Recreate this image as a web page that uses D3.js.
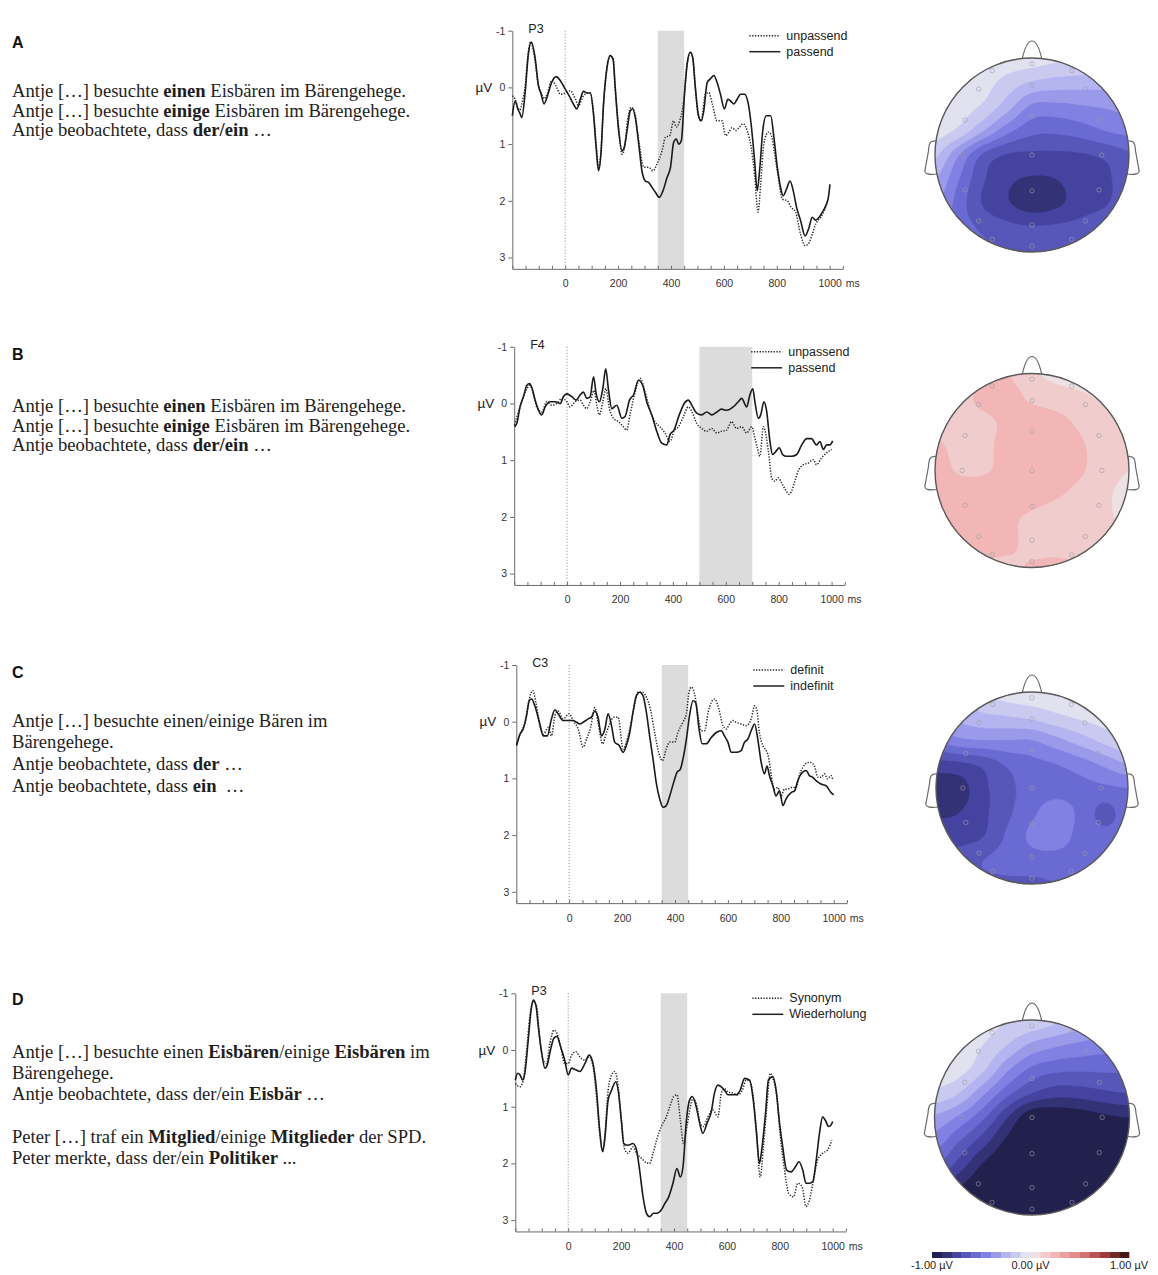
<!DOCTYPE html>
<html>
<head>
<meta charset="utf-8">
<script src="https://cdn.jsdelivr.net/npm/d3@7"></script>
<style>
  body { margin: 0; background: #fff; }
  svg { display: block; }
  text { white-space: pre; }
</style>
</head>
<body>
<svg id="fig" width="1158" height="1275"></svg>
<script>
// ---------------------------------------------------------------------------
// ERP grand averages: [time in ms, amplitude in µV] (negative plotted up)
// ---------------------------------------------------------------------------
const erpA_unpassend = [[-200,0.15],[-190,0.2],[-180,0.35],[-172,0.4],[-162,0.25],[-152,0.0],[-140,-0.6],[-130,-0.8],[-115,-0.5],[-102,-0.05],[-90,0.1],[-80,0.2],[-67,0.1],[-51,-0.12],[-32,0.0],[-19,0.12],[0,0.1],[19,0.06],[38,0.2],[50,0.32],[69,0.15],[82,0.1],[95,0.1],[107,0.45],[117,1.0],[126,1.41],[135,1.15],[145,0.29],[158,-0.35],[170,-0.56],[181,-0.5],[189,0.0],[202,0.7],[215,1.18],[225,1.05],[235,0.6],[250,0.35],[265,0.5],[278,0.94],[298,1.41],[316,1.41],[332,1.47],[347,1.35],[366,1.12],[379,0.88],[395,0.85],[410,0.59],[420,0.7],[433,0.59],[448,0.24],[461,-0.41],[473,-0.62],[482,-0.53],[492,0.0],[503,0.5],[514,0.59],[530,0.12],[543,0.09],[556,0.29],[574,0.59],[593,0.59],[606,0.85],[619,0.79],[631,0.71],[644,0.76],[657,0.71],[673,0.64],[688,0.76],[703,1.06],[716,1.53],[729,2.2],[739,1.71],[751,1.0],[768,0.79],[780,0.85],[792,1.18],[804,1.53],[821,1.97],[840,2.0],[855,2.12],[871,2.2],[890,2.59],[907,2.79],[922,2.74],[934,2.59],[947,2.41],[966,2.29],[979,2.18],[992,2.0]];
const erpA_passend = [[-200,0.5],[-189,0.24],[-179,0.38],[-170,0.47],[-164,0.53],[-152,0.12],[-139,-0.6],[-129,-0.8],[-114,-0.53],[-101,-0.03],[-91,0.12],[-80,0.29],[-67,0.15],[-51,-0.09],[-34,-0.19],[-19,-0.12],[0,0.03],[15,0.15],[25,0.24],[38,0.35],[44,0.38],[57,0.21],[69,0.07],[82,0.1],[95,0.1],[107,0.47],[117,1.06],[126,1.47],[135,1.18],[145,0.29],[158,-0.35],[170,-0.56],[181,-0.5],[189,0],[202,0.76],[215,1.12],[223,1.06],[234,0.76],[246,0.41],[256,0.38],[265,0.53],[278,1.0],[290,1.47],[303,1.65],[316,1.68],[328,1.76],[341,1.85],[356,1.94],[370,1.82],[385,1.59],[398,1.41],[410,0.97],[420,0.91],[429,1.0],[439,0.94],[451,0.12],[461,-0.41],[473,-0.62],[482,-0.53],[492,0],[503,0.47],[514,0.59],[524,0.41],[537,-0.09],[549,-0.15],[562,-0.21],[574,-0.09],[587,0.12],[602,0.38],[615,0.21],[625,0.24],[638,0.29],[650,0.21],[663,0.12],[678,0.12],[691,0.26],[703,0.65],[716,1.29],[726,1.82],[736,1.41],[747,0.76],[760,0.5],[777,0.5],[789,0.88],[802,1.41],[814,1.76],[824,1.91],[837,1.79],[850,1.65],[862,1.82],[875,2.12],[890,2.35],[907,2.62],[922,2.47],[934,2.29],[947,2.34],[960,2.29],[972,2.2],[985,2.09],[995,1.94],[1001,1.71]];

const erpB_unpassend = [[-199,0.38],[-178,0.06],[-152,-0.26],[-142,-0.32],[-127,-0.17],[-115,0.06],[-96,0.15],[-77,-0.03],[-58,0.03],[-39,0],[-20,-0.09],[-1,-0.03],[11,0.06],[30,-0.03],[49,-0.06],[62,0.03],[74,0.09],[87,-0.03],[102,-0.23],[112,0.03],[122,0.2],[135,-0.03],[147,-0.26],[160,0.09],[175,0.26],[194,0.32],[213,0.41],[225,0.47],[238,0.2],[257,-0.2],[276,-0.44],[295,-0.2],[314,0.12],[332,0.32],[351,0.41],[370,0.52],[389,0.67],[404,0.49],[421,0.41],[440,0.23],[458,0.06],[477,0.2],[490,0.35],[509,0.44],[528,0.49],[547,0.44],[566,0.52],[584,0.49],[603,0.47],[622,0.32],[641,0.44],[660,0.41],[679,0.52],[698,0.41],[710,0.61],[719,0.78],[729,0.93],[742,0.41],[754,0.61],[764,0.96],[773,1.31],[786,1.37],[798,1.31],[811,1.4],[824,1.51],[840,1.6],[849,1.54],[861,1.37],[874,1.19],[893,1.08],[912,1.05],[931,0.99],[943,1.08],[962,0.96],[981,0.87],[1000,0.81]];
const erpB_passend = [[-199,0.41],[-190,0.35],[-178,0.06],[-165,-0.12],[-152,-0.32],[-142,-0.35],[-134,-0.29],[-121,-0.06],[-108,0.12],[-96,0.2],[-83,0.06],[-64,-0.03],[-45,-0.03],[-26,0],[-14,-0.12],[-1,-0.17],[18,-0.12],[34,-0.06],[49,-0.15],[62,-0.2],[74,-0.09],[87,-0.12],[100,-0.47],[110,-0.17],[122,-0.03],[135,-0.26],[146,-0.61],[156,-0.26],[169,0.09],[188,0.03],[207,0.26],[219,0.23],[236,-0.06],[251,-0.15],[270,-0.41],[286,-0.32],[301,-0.03],[320,0.2],[339,0.49],[358,0.7],[377,0.73],[389,0.55],[404,0.47],[424,0.2],[443,0],[458,-0.06],[475,0.06],[490,0.17],[509,0.2],[528,0.15],[547,0.2],[566,0.15],[584,0.1],[603,0.12],[628,0.06],[647,-0.03],[660,-0.09],[679,0.06],[691,-0.15],[702,-0.26],[710,-0.03],[723,0.26],[732,0.2],[744,-0.03],[754,0.12],[767,0.67],[777,0.9],[790,0.84],[802,0.78],[815,0.9],[830,0.93],[849,0.93],[868,0.9],[887,0.73],[906,0.62],[924,0.62],[943,0.73],[956,0.67],[969,0.81],[981,0.73],[994,0.73],[1004,0.66]];

const erpC_definit = [[-199,0.39],[-186,0.22],[-167,0.01],[-151,-0.4],[-138,-0.55],[-126,-0.34],[-111,0.07],[-98,0.22],[-79,0.1],[-67,0.25],[-54,-0.11],[-42,-0.19],[-23,-0.05],[0,-0.14],[15,-0.02],[34,0.13],[53,0.45],[65,0.31],[81,0.1],[97,-0.25],[109,0.01],[126,0.39],[141,0.19],[153,0.04],[169,-0.08],[185,-0.08],[204,0.48],[216,0.36],[229,0.13],[244,-0.22],[260,-0.52],[277,-0.52],[292,-0.43],[307,-0.22],[323,0.19],[340,0.57],[352,0.69],[367,0.48],[380,0.36],[399,0.36],[411,0.19],[430,0.01],[443,-0.14],[453,-0.52],[462,-0.61],[474,-0.49],[487,-0.11],[499,0.16],[512,0.16],[525,-0.16],[537,-0.34],[550,-0.4],[566,-0.22],[581,0.07],[594,0.13],[606,0.04],[619,-0.02],[631,0.01],[650,0.04],[669,0.07],[688,-0.05],[701,-0.28],[709,-0.22],[719,0.19],[732,0.42],[745,0.51],[755,0.66],[764,0.95],[776,1.19],[789,1.16],[801,1.31],[814,1.19],[826,1.19],[839,1.16],[858,1.16],[870,0.95],[883,0.81],[902,0.72],[914,0.72],[927,0.78],[940,0.98],[952,0.98],[965,0.92],[977,1.01],[990,0.95],[996,1.02]];
const erpC_indefinit = [[-199,0.42],[-186,0.22],[-174,0.13],[-161,-0.11],[-151,-0.37],[-142,-0.4],[-130,-0.28],[-111,0.04],[-98,0.25],[-83,0.25],[-67,-0.05],[-54,-0.21],[-42,-0.14],[-23,-0.02],[-4,-0.02],[15,-0.02],[28,0.01],[40,0.04],[53,0.01],[72,-0.05],[84,-0.08],[97,-0.19],[109,-0.08],[122,0.25],[135,0.13],[147,-0.14],[160,0.07],[172,0.36],[189,0.42],[204,0.54],[216,0.42],[229,0.19],[242,-0.19],[254,-0.46],[267,-0.52],[279,-0.46],[292,-0.16],[304,0.25],[317,0.66],[330,1.1],[342,1.36],[355,1.51],[367,1.48],[380,1.31],[395,1.07],[408,0.89],[420,0.84],[430,0.66],[443,0.31],[455,-0.11],[468,-0.37],[478,-0.34],[491,0.13],[503,0.39],[518,0.39],[537,0.28],[556,0.19],[575,0.16],[587,0.25],[600,0.36],[613,0.54],[631,0.54],[650,0.51],[663,0.36],[675,0.31],[688,0.16],[701,0.04],[713,0.31],[726,0.72],[738,0.92],[748,0.78],[757,0.95],[770,1.13],[782,1.31],[795,1.22],[808,1.48],[820,1.36],[839,1.25],[852,1.22],[864,1.04],[877,0.92],[896,0.86],[908,0.95],[921,0.98],[933,1.04],[952,1.1],[971,1.13],[990,1.25],[1000,1.29]];

const erpD_synonym = [[-200,0.59],[-182,0.65],[-170,0.53],[-157,0],[-145,-0.59],[-132,-0.85],[-119,-0.76],[-107,-0.18],[-94,0.18],[-82,0.24],[-69,-0.12],[-54,-0.35],[-42,-0.29],[-29,-0.06],[-13,0.24],[0,0.24],[13,0.09],[29,0.03],[44,0.12],[63,0.18],[79,0.12],[94,0.29],[107,0.82],[119,1.47],[130,1.79],[138,1.53],[151,0.71],[164,0.44],[176,0.38],[189,0.65],[201,1.24],[214,1.76],[226,1.82],[245,1.71],[258,1.82],[277,1.91],[296,1.99],[308,2.0],[321,1.82],[336,1.56],[352,1.35],[371,1.18],[384,1.0],[399,0.82],[411,0.79],[424,1.24],[436,1.65],[449,1.35],[462,1.0],[472,0.85],[487,1.0],[499,1.29],[512,1.35],[528,1.18],[547,1.06],[566,1.18],[579,0.76],[591,0.68],[604,0.74],[623,0.76],[642,0.79],[658,0.71],[673,0.53],[688,0.56],[701,0.88],[713,1.53],[726,2.24],[738,1.71],[751,1.0],[764,0.41],[776,0.53],[789,0.82],[801,1.47],[818,2.12],[834,2.53],[852,2.59],[868,2.35],[884,2.41],[899,2.76],[912,2.65],[925,2.35],[943,1.94],[962,1.82],[981,1.76],[997,1.59]];
const erpD_wiederholung = [[-200,0.53],[-191,0.41],[-182,0.44],[-172,0.53],[-164,0.41],[-151,-0.18],[-141,-0.68],[-132,-0.88],[-122,-0.79],[-113,-0.41],[-101,0.03],[-88,0.32],[-79,0.26],[-67,0],[-54,-0.21],[-42,-0.24],[-29,-0.06],[-13,0.18],[0,0.44],[13,0.32],[29,0.35],[44,0.38],[63,0.24],[79,0.09],[94,0.24],[107,0.71],[119,1.41],[130,1.79],[138,1.59],[151,0.88],[164,0.71],[180,0.56],[189,0.71],[201,1.24],[210,1.65],[226,1.68],[245,1.65],[258,1.76],[270,2.12],[283,2.59],[296,2.88],[308,2.94],[323,2.88],[336,2.88],[352,2.82],[365,2.71],[380,2.59],[396,2.35],[411,2.09],[424,2.24],[434,2.06],[447,1.24],[459,0.88],[469,0.82],[484,1.0],[497,1.29],[509,1.47],[525,1.29],[541,1.09],[553,0.76],[566,0.62],[579,0.65],[591,0.71],[604,0.79],[623,0.79],[635,0.79],[650,0.71],[667,0.5],[686,0.53],[698,0.82],[711,1.41],[723,2.0],[733,1.71],[746,1.12],[757,0.53],[774,0.47],[786,0.71],[799,1.29],[811,1.71],[826,2.12],[843,2.15],[859,2.06],[872,1.97],[887,2.12],[899,2.35],[912,2.35],[925,2.32],[937,1.97],[950,1.47],[962,1.18],[972,1.24],[985,1.35],[994,1.32],[1000,1.26]];

// Axis ticks and per-panel annotations
const timeTicks = [0, 200, 400, 600, 800, 1000];
const voltTicks = [-1, 0, 1, 2, 3];
const channels = ["P3", "F4", "C3", "P3"];
const windows = [[350, 450], [500, 700], [350, 450], [350, 450]];
const legendsDotted = ["unpassend", "unpassend", "definit", "Synonym"];
const legendsSolid = ["passend", "passend", "indefinit", "Wiederholung"];
const panelLetters = ["A", "B", "C", "D"];

// Example sentences: [text, bold]
const sentencesA = [
  [["Antje […] besuchte ", 0], ["einen", 1], [" Eisbären im Bärengehege.", 0]],
  [["Antje […] besuchte ", 0], ["einige", 1], [" Eisbären im Bärengehege.", 0]],
  [["Antje beobachtete, dass ", 0], ["der/ein", 1], [" …", 0]]
];
const sentencesB = [
  [["Antje […] besuchte ", 0], ["einen", 1], [" Eisbären im Bärengehege.", 0]],
  [["Antje […] besuchte ", 0], ["einige", 1], [" Eisbären im Bärengehege.", 0]],
  [["Antje beobachtete, dass ", 0], ["der/ein", 1], [" …", 0]]
];
const sentencesC = [
  [["Antje […] besuchte einen/einige Bären im", 0]],
  [["Bärengehege.", 0]],
  [["Antje beobachtete, dass ", 0], ["der", 1], [" …", 0]],
  [["Antje beobachtete, dass ", 0], ["ein", 1], ["  …", 0]]
];
const sentencesD = [
  [["Antje […] besuchte einen ", 0], ["Eisbären", 1], ["/einige ", 0], ["Eisbären", 1], [" im", 0]],
  [["Bärengehege.", 0]],
  [["Antje beobachtete, dass der/ein ", 0], ["Eisbär", 1], [" …", 0]],
  [["Peter […] traf ein ", 0], ["Mitglied", 1], ["/einige ", 0], ["Mitglieder", 1], [" der SPD.", 0]],
  [["Peter merkte, dass der/ein ", 0], ["Politiker", 1], [" ...", 0]]
];

// Scalp potentials (µV) on a 9×9 grid, x and y from -1 to 1 (nose at top)
const topoA = [
  [-0.02,-0.02,-0.03,-0.04,-0.05,-0.08,-0.10,-0.12,-0.15],
  [-0.02,-0.03,-0.06,-0.14,-0.21,-0.24,-0.25,-0.26,-0.28],
  [-0.03,-0.05,-0.12,-0.26,-0.42,-0.43,-0.41,-0.39,-0.37],
  [-0.05,-0.13,-0.30,-0.47,-0.57,-0.58,-0.55,-0.50,-0.47],
  [-0.18,-0.40,-0.62,-0.71,-0.72,-0.72,-0.71,-0.68,-0.62],
  [-0.30,-0.50,-0.69,-0.78,-0.81,-0.80,-0.75,-0.72,-0.65],
  [-0.38,-0.55,-0.71,-0.79,-0.85,-0.82,-0.75,-0.71,-0.64],
  [-0.45,-0.55,-0.62,-0.67,-0.69,-0.68,-0.66,-0.62,-0.58],
  [-0.50,-0.55,-0.58,-0.60,-0.61,-0.60,-0.58,-0.56,-0.54]
];
const topoB = [
  [0.15,0.15,0.18,0.20,0.12,0.07,0.05,0.04,0.04],
  [0.15,0.17,0.22,0.24,0.18,0.15,0.12,0.08,0.05],
  [0.15,0.17,0.18,0.22,0.25,0.23,0.18,0.14,0.12],
  [0.22,0.17,0.18,0.23,0.26,0.25,0.21,0.16,0.14],
  [0.24,0.19,0.19,0.23,0.26,0.25,0.21,0.15,0.10],
  [0.24,0.25,0.25,0.25,0.24,0.21,0.17,0.12,0.06],
  [0.23,0.25,0.25,0.22,0.18,0.15,0.14,0.12,0.07],
  [0.18,0.20,0.23,0.22,0.17,0.15,0.15,0.14,0.12],
  [0.15,0.16,0.18,0.18,0.21,0.23,0.20,0.16,0.14]
];
const topoC = [
  [-0.25,-0.18,-0.10,-0.05,-0.03,-0.02,-0.01,-0.01,-0.01],
  [-0.35,-0.27,-0.22,-0.20,-0.17,-0.12,-0.08,-0.05,-0.03],
  [-0.48,-0.42,-0.40,-0.40,-0.40,-0.33,-0.25,-0.17,-0.10],
  [-0.74,-0.72,-0.67,-0.58,-0.53,-0.50,-0.45,-0.38,-0.30],
  [-0.86,-0.84,-0.72,-0.63,-0.55,-0.53,-0.53,-0.52,-0.50],
  [-0.82,-0.80,-0.72,-0.62,-0.52,-0.46,-0.52,-0.63,-0.55],
  [-0.74,-0.74,-0.70,-0.58,-0.48,-0.45,-0.53,-0.57,-0.55],
  [-0.64,-0.65,-0.60,-0.56,-0.54,-0.54,-0.55,-0.55,-0.52],
  [-0.58,-0.60,-0.62,-0.62,-0.62,-0.60,-0.57,-0.55,-0.50]
];
const topoD = [
  [-0.02,-0.02,-0.05,-0.10,-0.12,-0.18,-0.25,-0.30,-0.35],
  [-0.02,-0.04,-0.10,-0.20,-0.32,-0.38,-0.42,-0.45,-0.48],
  [-0.04,-0.06,-0.18,-0.38,-0.52,-0.57,-0.58,-0.58,-0.58],
  [-0.12,-0.20,-0.38,-0.57,-0.70,-0.76,-0.75,-0.72,-0.70],
  [-0.32,-0.42,-0.58,-0.80,-0.98,-0.98,-0.96,-0.92,-0.90],
  [-0.45,-0.60,-0.76,-0.93,-1.00,-1.00,-1.00,-1.00,-1.00],
  [-0.60,-0.75,-0.92,-1.00,-1.00,-1.00,-1.00,-1.00,-1.00],
  [-0.80,-0.92,-1.00,-1.00,-1.00,-1.00,-1.00,-1.00,-1.00],
  [-0.90,-1.00,-1.00,-1.00,-1.00,-1.00,-1.00,-1.00,-1.00]
];

// Electrode sites on the unit head (x right, y toward the back)
const electrodes = [
  [-0.41,-0.87],[0,-0.94],[0.41,-0.87],
  [-0.55,-0.68],[0,-0.72],[0.55,-0.68],
  [-0.69,-0.36],[0,-0.40],[0.69,-0.36],
  [-0.72,0],[0,0],[0.72,0],
  [-0.69,0.36],[0,0.37],[0.69,0.36],
  [-0.55,0.68],[0,0.72],[0.55,0.68],
  [-0.41,0.87],[0,0.94],[0.41,0.87]
];

// Colour scale of the maps
const colorbarLabels = ["-1.00 µV", "0.00 µV", "1.00 µV"];
const colorStops = [-1, -0.75, -0.5, -0.25, 0, 0.25, 0.5, 0.75, 1];
const colorRamp = ["#1a1838", "#4444a0", "#7474e0", "#b4b4f0", "#ececf0", "#f2b6b6", "#e08080", "#a03a3a", "#2e1010"];

// ---------------------------------------------------------------------------
// Layout
// ---------------------------------------------------------------------------
const PX_PER_MS = 0.2645, PX_PER_UV = 56.7;
const layout = [
  { letterY: 48,   lineY: [97, 117, 136],                  chart: { left: 512.3, top: 30.7 },  head: { cx: 1032, cy: 155,   r: 97 } },
  { letterY: 360,  lineY: [412, 432, 451],                 chart: { left: 514.2, top: 346.8 }, head: { cx: 1032, cy: 470.5, r: 97 } },
  { letterY: 678,  lineY: [727, 748, 770, 792],            chart: { left: 516.3, top: 665 },   head: { cx: 1032, cy: 788,   r: 96 } },
  { letterY: 1005, lineY: [1058, 1079, 1100, 1143, 1164],  chart: { left: 515.3, top: 993.3 }, head: { cx: 1032, cy: 1117.5, r: 97.5 } }
];
const series = [
  [erpA_unpassend, erpA_passend],
  [erpB_unpassend, erpB_passend],
  [erpC_definit, erpC_indefinit],
  [erpD_synonym, erpD_wiederholung]
];
const sentences = [sentencesA, sentencesB, sentencesC, sentencesD];
const topos = [topoA, topoB, topoC, topoD];

const SANS = "'Liberation Sans', Arial, Helvetica, sans-serif";
const SERIF = "'Liberation Serif', 'Times New Roman', Times, serif";

const svg = d3.select("#fig");
svg.append("rect").attr("width", 1158).attr("height", 1275).attr("fill", "#fff");

const potential = d3.scaleLinear().domain(colorStops).range(colorRamp).clamp(true);
const thresholds = d3.range(-9, 10).map(k => k / 10);

// --------------------------- text column ---------------------------------
sentences.forEach((lines, p) => {
  const L = layout[p];
  svg.append("text").attr("x", 12).attr("y", L.letterY)
    .attr("font-family", SANS).attr("font-weight", "bold").attr("font-size", 16)
    .attr("fill", "#111").text(panelLetters[p]);
  lines.forEach((segs, i) => {
    const t = svg.append("text").attr("x", 12).attr("y", L.lineY[i])
      .attr("font-family", SERIF).attr("font-size", 18.6).attr("fill", "#1e1e1e");
    segs.forEach(([s, b]) => t.append("tspan").attr("font-weight", b ? "bold" : "normal").text(s));
  });
});

// --------------------------- ERP charts -----------------------------------
function drawErp(p) {
  const { left, top } = layout[p].chart;
  const x = d3.scaleLinear().domain([-200, 1050]).range([left, left + 1250 * PX_PER_MS]);
  const y = d3.scaleLinear().domain([-1, 3.2]).range([top, top + 4.2 * PX_PER_UV]);
  const g = svg.append("g");

  // analysis window
  const [w0, w1] = windows[p];
  g.append("rect").attr("x", x(w0)).attr("width", x(w1) - x(w0))
    .attr("y", y(-1)).attr("height", y(3.2) - y(-1)).attr("fill", "#dcdcdc");

  // stimulus onset
  g.append("line").attr("x1", x(0)).attr("x2", x(0)).attr("y1", y(-1)).attr("y2", y(3.2))
    .attr("stroke", "#8a8a8a").attr("stroke-width", 1).attr("stroke-dasharray", "1,2");

  // axes
  const xAxis = g.append("g").attr("transform", `translate(0,${y(3.2)})`)
    .call(d3.axisBottom(x).tickValues(d3.range(-200, 1051, 50))
      .tickFormat(d => timeTicks.includes(d) ? String(d) : "")
      .tickSizeInner(-3).tickSizeOuter(0).tickPadding(11));
  const yAxis = g.append("g").attr("transform", `translate(${left},0)`)
    .call(d3.axisLeft(y).tickValues(voltTicks).tickFormat(d => String(d))
      .tickSizeInner(4).tickSizeOuter(0).tickPadding(3));
  [xAxis, yAxis].forEach(a => {
    a.select(".domain").attr("stroke", "#6a6a6a");
    a.selectAll(".tick line").attr("stroke", "#6a6a6a");
    a.selectAll("text").attr("font-family", SANS).attr("font-size", 10.5).attr("fill", "#333");
  });
  g.append("text").attr("x", x(1000) + 16).attr("y", y(3.2) + 11 + 7.4)
    .attr("font-family", SANS).attr("font-size", 10.5).attr("fill", "#333").text("ms");
  g.append("text").attr("x", left - 20).attr("y", y(0) + 4.5).attr("text-anchor", "end")
    .attr("font-family", SANS).attr("font-size", 13.5).attr("fill", "#222").text("µV");

  // channel label
  g.append("text").attr("x", left + 16).attr("y", top + 2)
    .attr("font-family", SANS).attr("font-size", 12.5).attr("fill", "#222").text(channels[p]);

  // waveforms
  const line = d3.line().x(d => x(d[0])).y(d => y(d[1])).curve(d3.curveMonotoneX);
  const [dotted, solid] = series[p];
  g.append("path").datum(dotted).attr("d", line).attr("fill", "none")
    .attr("stroke", "#2a2a2a").attr("stroke-width", 1.5).attr("stroke-dasharray", "1.3,1.5");
  g.append("path").datum(solid).attr("d", line).attr("fill", "none")
    .attr("stroke", "#1a1a1a").attr("stroke-width", 1.6).attr("stroke-linejoin", "round");

  // legend
  const lx0 = left + 237, lx1 = left + 268, tx = left + 274;
  [[legendsDotted[p], top + 5, true], [legendsSolid[p], top + 21, false]].forEach(([label, ly, dot]) => {
    g.append("line").attr("x1", lx0).attr("x2", lx1).attr("y1", ly).attr("y2", ly)
      .attr("stroke", "#222").attr("stroke-width", 1.5)
      .attr("stroke-dasharray", dot ? "1.3,1.5" : null);
    g.append("text").attr("x", tx).attr("y", ly + 4)
      .attr("font-family", SANS).attr("font-size", 12.5).attr("fill", "#222").text(label);
  });
}

// --------------------------- scalp maps -----------------------------------
function catmull(p0, p1, p2, p3, t) {
  return 0.5 * (2 * p1 + (-p0 + p2) * t + (2 * p0 - 5 * p1 + 4 * p2 - p3) * t * t
    + (-p0 + 3 * p1 - 3 * p2 + p3) * t * t * t);
}
function sampleGrid(grid, hx, hy) {
  const n = grid.length - 1;
  const gx = (Math.max(-1, Math.min(1, hx)) + 1) / 2 * n;
  const gy = (Math.max(-1, Math.min(1, hy)) + 1) / 2 * n;
  const ix = Math.min(n - 1, Math.floor(gx)), iy = Math.min(n - 1, Math.floor(gy));
  const tx = gx - ix, ty = gy - iy;
  const c = i => Math.max(0, Math.min(n, i));
  const rows = [-1, 0, 1, 2].map(d => {
    const r = grid[c(iy + d)];
    return catmull(r[c(ix - 1)], r[c(ix)], r[c(ix + 1)], r[c(ix + 2)], tx);
  });
  return catmull(rows[0], rows[1], rows[2], rows[3], ty);
}

function drawTopo(p) {
  const { cx, cy, r } = layout[p].head;
  const grid = topos[p];
  const g = svg.append("g");

  // nose and ears
  const nose = `M${cx - 10},${cy - r + 2} Q${cx - 6},${cy - r - 17} ${cx},${cy - r - 17} Q${cx + 6},${cy - r - 17} ${cx + 10},${cy - r + 2}`;
  const ear = s => `M${cx + s * (r - 1)},${cy - 14} C${cx + s * (r + 6)},${cy - 15} ${cx + s * (r + 6)},${cy - 10} ${cx + s * (r + 6.5)},${cy - 4} L${cx + s * (r + 10)},${cy + 15} C${cx + s * (r + 11)},${cy + 19} ${cx + s * (r + 6)},${cy + 20} ${cx + s * (r - 2)},${cy + 19}`;
  [nose, ear(-1), ear(1)].forEach(d => {
    g.append("path").attr("d", d).attr("fill", "#fff").attr("stroke", "#6a6a6a").attr("stroke-width", 1.2);
  });

  const clipId = `scalp-${p}`;
  svg.append("defs").append("clipPath").attr("id", clipId)
    .append("circle").attr("cx", cx).attr("cy", cy).attr("r", r);

  // interpolated potential field
  const N = 127, lo = -1.06, hi = 1.06, step = (hi - lo) / (N - 1);
  const values = new Float64Array(N * N);
  for (let j = 0; j < N; j++)
    for (let i = 0; i < N; i++)
      values[j * N + i] = sampleGrid(grid, lo + i * step, lo + j * step);

  const proj = d3.geoTransform({
    point(px, py) {
      this.stream.point(cx + (lo + (px - 0.5) * step) * r, cy + (lo + (py - 0.5) * step) * r);
    }
  });
  const path = d3.geoPath(proj);
  const field = g.append("g").attr("clip-path", `url(#${clipId})`);
  field.append("circle").attr("cx", cx).attr("cy", cy).attr("r", r).attr("fill", potential(-0.95));
  const bands = d3.contours().size([N, N]).thresholds(thresholds)(values);
  field.selectAll("path").data(bands).join("path")
    .attr("d", path).attr("fill", d => potential(d.value + 0.05))
    .attr("stroke", d => potential(d.value + 0.05)).attr("stroke-width", 0.4);

  // electrodes
  g.selectAll("circle.el").data(electrodes).join("circle").attr("class", "el")
    .attr("cx", d => cx + d[0] * r).attr("cy", d => cy + d[1] * r).attr("r", 2.2)
    .attr("fill", "none").attr("stroke", "#9c9caa").attr("stroke-width", 0.8).attr("opacity", 0.75);

  g.append("circle").attr("cx", cx).attr("cy", cy).attr("r", r)
    .attr("fill", "none").attr("stroke", "#5a5a5a").attr("stroke-width", 1.4);
}

for (let p = 0; p < 4; p++) { drawErp(p); drawTopo(p); }

// --------------------------- colour bar -----------------------------------
const cbX = d3.scaleLinear().domain([-1, 1]).range([932, 1129]);
const cb = svg.append("g");
cb.selectAll("rect").data(d3.range(-10, 10).map(k => k / 10)).join("rect")
  .attr("x", d => cbX(d)).attr("width", cbX(0.1) - cbX(0) + 0.3)
  .attr("y", 1252).attr("height", 6)
  .attr("fill", d => potential(d + 0.05));
cb.selectAll("text").data(colorbarLabels).join("text")
  .attr("x", (d, i) => cbX([-1, 0, 1][i])).attr("y", 1269).attr("text-anchor", "middle")
  .attr("font-family", SANS).attr("font-size", 11).attr("fill", "#222").text(d => d);
</script>
</body>
</html>
